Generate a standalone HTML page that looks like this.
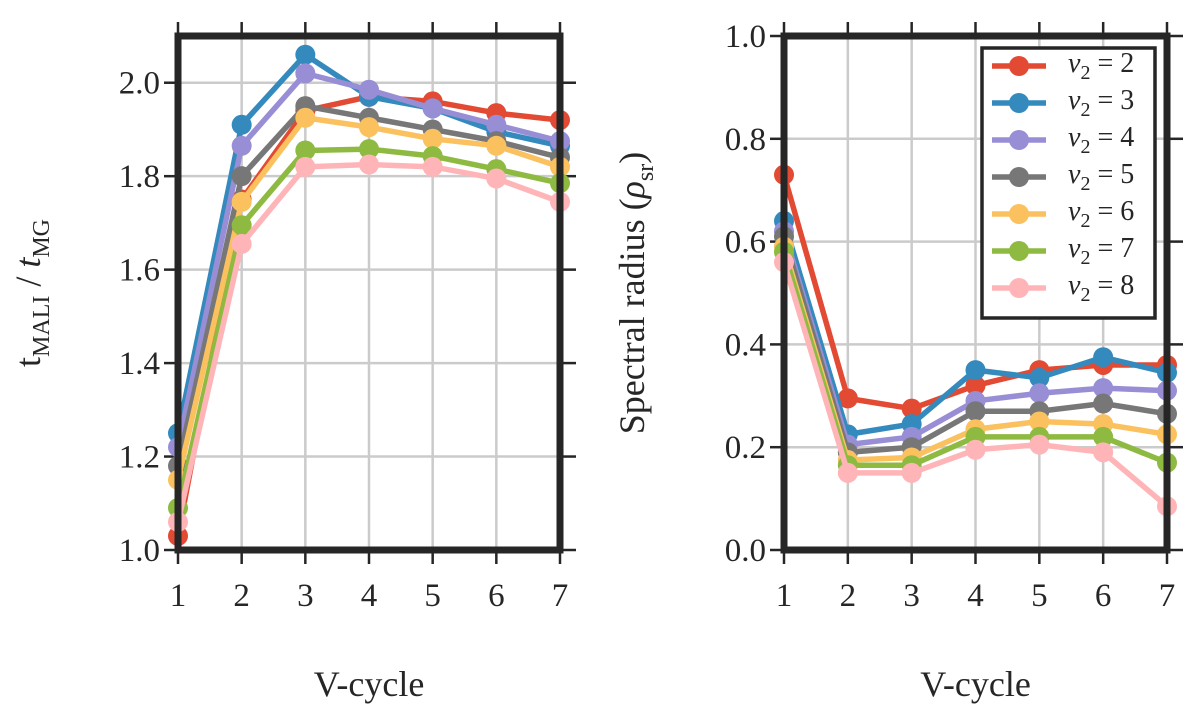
<!DOCTYPE html>
<html><head><meta charset="utf-8"><style>
body{margin:0;background:#fff;width:1200px;height:704px;overflow:hidden}
svg{font-family:"Liberation Serif",serif}
</style></head><body>
<svg id="c" width="1200" height="704"></svg>
<script>
const categories=[1,2,3,4,5,6,7];
const seriesNames=["2","3","4","5","6","7","8"];
const colors=["#E24A33","#348ABD","#988ED5","#777777","#FBC15E","#8EBA42","#FFB5B8"];
const leftValues=[
[1.03,1.75,1.94,1.97,1.96,1.935,1.92],
[1.25,1.91,2.06,1.97,1.945,1.895,1.865],
[1.22,1.865,2.02,1.985,1.945,1.91,1.875],
[1.18,1.80,1.95,1.925,1.90,1.875,1.84],
[1.15,1.745,1.925,1.905,1.88,1.865,1.82],
[1.09,1.695,1.855,1.858,1.843,1.815,1.785],
[1.06,1.655,1.82,1.825,1.82,1.795,1.745]];
const rightValues=[
[0.73,0.295,0.275,0.32,0.35,0.36,0.36],
[0.64,0.225,0.245,0.35,0.335,0.375,0.345],
[0.62,0.205,0.22,0.29,0.305,0.315,0.31],
[0.61,0.19,0.20,0.27,0.27,0.285,0.265],
[0.59,0.175,0.18,0.235,0.25,0.245,0.225],
[0.58,0.165,0.165,0.22,0.22,0.22,0.17],
[0.56,0.15,0.15,0.195,0.205,0.19,0.085]];
const leftTicks=[1.0,1.2,1.4,1.6,1.8,2.0];
const rightTicks=[0.0,0.2,0.4,0.6,0.8,1.0];
const NS="http://www.w3.org/2000/svg";
const svg=document.getElementById('c');
function mk(t,a,p){const e=document.createElementNS(NS,t);for(const k in a)e.setAttribute(k,a[k]);(p||svg).appendChild(e);return e;}
function panel(name,x0,x1,ymin,ymax,vals,ticks,ylab){
  const top=36,bot=550;
  const sx=v=>x0+(v-1)*(x1-x0)/6;
  const sy=v=>bot-(v-ymin)*(bot-top)/(ymax-ymin);
  const g=mk('g',{});
  
  
  categories.forEach(c=>{
    const l=mk('line',{x1:sx(c),x2:sx(c),y1:top,y2:bot,stroke:'#cbcbcb','stroke-width':2.5},g);
    
    mk('line',{x1:sx(c),x2:sx(c),y1:bot,y2:bot+14,stroke:'#262626','stroke-width':2.5},g);
    mk('line',{x1:sx(c),x2:sx(c),y1:top,y2:top-14,stroke:'#262626','stroke-width':2.5},g);
    const t=mk('text',{x:sx(c),y:bot+56,'text-anchor':'middle','font-size':33,fill:'#262626'},g);
    t.textContent=c;
  });
  ticks.forEach(v=>{
    const y=sy(v);
    const l=mk('line',{x1:x0,x2:x1,y1:y,y2:y,stroke:'#cbcbcb','stroke-width':2.5},g);
    
    mk('line',{x1:x0-14,x2:x0,y1:y,y2:y,stroke:'#262626','stroke-width':2.5},g);
    mk('line',{x1:x1,x2:x1+16,y1:y,y2:y,stroke:'#262626','stroke-width':2.5},g);
    const t=mk('text',{x:x0-18,y:y+11,'text-anchor':'end','font-size':33,fill:'#262626'},g);
    t.textContent=v.toFixed(1);
  });
  vals.forEach((s,i)=>{
    const pts=s.map((v,j)=>sx(categories[j])+','+sy(v)).join(' ');
    const pl=mk('polyline',{points:pts,fill:'none',stroke:colors[i],'stroke-width':5.5,'stroke-linejoin':'round'},g);
    
    s.forEach((v,j)=>{
      const c=mk('circle',{cx:sx(categories[j]),cy:sy(v),r:10,fill:colors[i]},g);
      
    });
  });
  const f=mk('rect',{x:x0,y:top,width:x1-x0,height:bot-top,fill:'none',stroke:'#262626','stroke-width':7},g);
  
  const xl=mk('text',{x:(x0+x1)/2,y:696,'text-anchor':'middle','font-size':36,fill:'#262626'},g);
  xl.textContent='V-cycle';
  const yl=mk('text',{transform:`translate(${ylab.x},293) rotate(-90)`,'text-anchor':'middle','font-size':36,fill:'#262626'},g);
  yl.innerHTML=ylab.html;
}
panel('left-panel',178,560,1.0,2.1,leftValues,leftTicks,{x:40,html:'t<tspan font-size="24" dy="9">MALI</tspan><tspan dy="-9"> / </tspan><tspan font-style="italic">t</tspan><tspan font-size="24" dy="9">MG</tspan>'});
panel('right-panel',784,1167,0,1.0,rightValues,rightTicks,{x:644,html:'Spectral radius (<tspan font-style="italic">ρ</tspan><tspan font-size="24" dy="9">sr</tspan><tspan dy="-9">)</tspan>'});
const lg=mk('g',{});


mk('rect',{x:982,y:48,width:173,height:270,fill:'#fff',stroke:'#262626','stroke-width':3.5},lg);
seriesNames.forEach((n,i)=>{
  const y=66+i*37;
  const e=mk('g',{},lg);
  
  
  mk('line',{x1:992,x2:1046,y1:y,y2:y,stroke:colors[i],'stroke-width':5.5},e);
  mk('circle',{cx:1019,cy:y,r:10,fill:colors[i]},e);
  const t=mk('text',{x:1068,y:y+6,'font-size':28,fill:'#262626'},e);
  t.innerHTML='<tspan font-style="italic">ν</tspan><tspan font-size="20" dy="7">2</tspan><tspan dy="-7"> = '+n+'</tspan>';
});
</script>
</body></html>
